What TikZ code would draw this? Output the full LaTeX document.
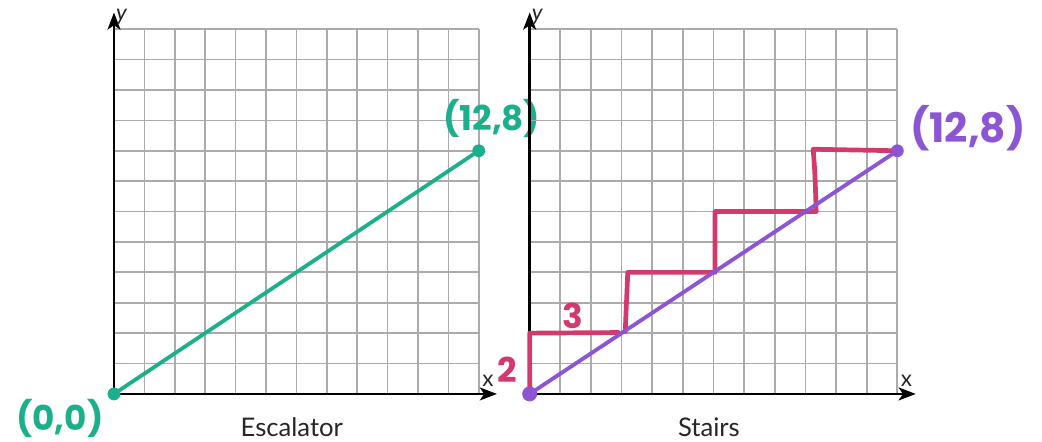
\documentclass[tikz,border=0pt]{standalone}
\usepackage{fontspec}
\setmainfont{Lato}
\newfontfamily\handfont{Poppins}
\usetikzlibrary{arrows.meta}
\definecolor{esc}{HTML}{1BAF8B}
\definecolor{pur}{HTML}{8B55D3}
\definecolor{stair}{HTML}{D33A6C}
\definecolor{gridc}{HTML}{ABABAB}
\begin{document}
\begin{tikzpicture}[x=0.5cm,y=0.5cm,
  gridline/.style={draw=gridc,line width=0.8pt},
  axis/.style={line width=1.3pt,-{Stealth[length=8pt,width=6pt,inset=2pt]}},
  axlabel/.style={font=\fontsize{10.5}{10.5}\selectfont,text=black!85,inner sep=0pt},
  caption/.style={font=\fontsize{12}{12}\selectfont,text=black!85},
  hand/.style={font=\handfont\bfseries\fontsize{16}{16}\selectfont,inner sep=0pt},
  dotp/.style={circle,inner sep=0pt,minimum size=6pt}]
\useasboundingbox (-3.75,-1.58) rectangle (30.53,12.96);
% ---------- left: escalator ----------
\draw[gridline,step=0.5cm] (0,0) grid (12,12);
\coordinate (LO) at (0,0);
\coordinate (LX) at (12.6,0);
\coordinate (LY) at (0,12.55);
\draw[axis] (LO) -- (LX);
\draw[axis] (LO) -- (LY);
\node[axlabel] (lxl) at (12.3,0.43) {x};
\node[axlabel] (lyl) at (0.25,12.42) {\itshape y};
\node[dotp,fill=esc] (ea) at (0,0) {};
\node[dotp,fill=esc] (eb) at (12,8) {};
\draw[esc,line width=1.8pt] (ea.center) -- (eb.center);
\node[hand,text=esc] (lab128g) at (12.43,9.07) {(12,8)};
\node[hand,text=esc] (lab00) at (-1.78,-0.8) {(0,0)};
\node[caption] (capL) at (5.85,-1.08) {Escalator};
% ---------- right: stairs ----------
\begin{scope}[shift={(13.675,0)},xscale=1.008]
\draw[gridline,step=0.5cm] (0,0) grid (12,12);
\coordinate (RO) at (0,0);
\coordinate (RX) at (12.6,0);
\coordinate (RY) at (0,12.55);
\draw[axis] (RO) -- (RX);
\draw[axis] (RO) -- (RY);
\node[axlabel] (rxl) at (12.3,0.43) {x};
\node[axlabel] (ryl) at (0.25,12.42) {\itshape y};
\coordinate (s0) at (0,0);
\coordinate (s1) at (0,2);
\coordinate (s2) at (2.9,2.02);
\coordinate (s2b) at (3.12,2.05);
\coordinate (s3) at (3.2,4.0);
\coordinate (s4) at (6.05,4.0);
\coordinate (s5) at (6.05,6.0);
\coordinate (s6) at (9.35,6.0);
\coordinate (s7) at (9.25,8.05);
\coordinate (s8) at (12,8.0);
\draw[stair,line width=2.2pt,line cap=round,line join=round]
  (s0) -- (s1) -- (s2)
  (s2b) to[out=88,in=-92] (s3) -- (s4) -- (s5) -- (s6)
  (s6) to[out=92,in=-85] (s7) -- (s8);
\node[dotp,fill=pur,minimum size=7pt] (pa) at (0,0) {};
\node[dotp,fill=pur] (pb) at (12,8) {};
\draw[pur,line width=1.8pt] (pa.center) -- (pb.center);
\node[hand,text=stair] (lab2) at (-0.72,0.79) {2};
\node[hand,text=stair] (lab3) at (1.41,2.56) {3};
\node[hand,text=pur,font=\handfont\bfseries\fontsize{19}{19}\selectfont] (lab128p) at (14.3,8.74) {(12,8)};
\node[caption] (capR) at (5.85,-1.08) {Stairs};
\end{scope}
\end{tikzpicture}
\end{document}
